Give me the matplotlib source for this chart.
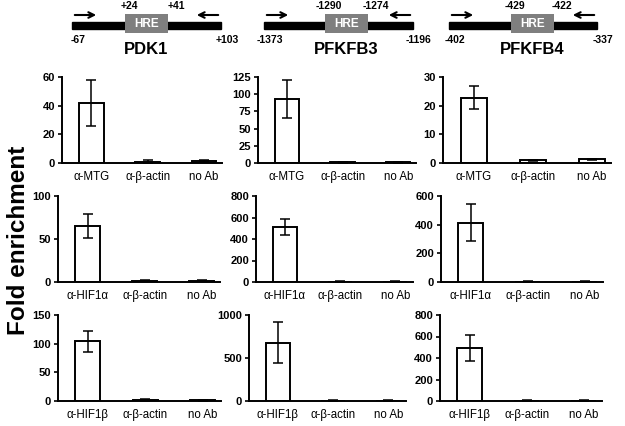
import matplotlib
matplotlib.use("Agg")
import matplotlib.pyplot as plt
from matplotlib.patches import Rectangle

plt.rcParams['font.family'] = ['Liberation Sans', 'DejaVu Sans']

# genes and primer/HRE positions (diagram labels)
genes = ["PDK1", "PFKFB3", "PFKFB4"]
amp_start = ["-67", "-1373", "-402"]
amp_end = ["+103", "-1196", "-337"]
hre_start = ["+24", "-1290", "-429"]
hre_end = ["+41", "-1274", "-422"]

# bar categories per row
row_abs = ["α-MTG", "α-HIF1α", "α-HIF1β"]
controls = ["α-β-actin", "no Ab"]

# fold enrichment (mean) and error, one list per gene: [antibody, actin, no Ab]
mtg_vals = [[42, 1.0, 1.5], [93, 1.0, 1.0], [22.8, 0.9, 1.3]]
mtg_errs = [[16, 1.3, 0.5], [28, 1.0, 0.8], [4, 0.3, 0.2]]
hif1a_vals = [[65, 1.5, 1.5], [515, 3, 3], [415, 3, 3]]
hif1a_errs = [[14, 0.8, 0.6], [75, 2, 2], [130, 2, 2]]
hif1b_vals = [[104, 1.5, 1.0], [680, 5, 5], [490, 3, 3]]
hif1b_errs = [[18, 1.2, 0.6], [240, 3, 3], [120, 2, 2]]

yticks = [
    [[0, 20, 40, 60], [0, 25, 50, 75, 100, 125], [0, 10, 20, 30]],
    [[0, 50, 100], [0, 200, 400, 600, 800], [0, 200, 400, 600]],
    [[0, 50, 100, 150], [0, 500, 1000], [0, 200, 400, 600, 800]],
]

W, H = 625, 426
fig = plt.figure(figsize=(W / 100, H / 100), dpi=100)

# axes layout in pixels: (left, width) per panel, (top, bottom) per row
panel_x = [
    [(62, 160), (258, 158), (443, 168)],
    [(58, 162), (256, 157), (441, 162)],
    [(58, 163), (249, 157), (440, 162)],
]
row_y = [(77, 163), (196, 282), (315, 401)]

all_vals = [mtg_vals, hif1a_vals, hif1b_vals]
all_errs = [mtg_errs, hif1a_errs, hif1b_errs]

for r in range(3):
    top, bot = row_y[r]
    labels = [row_abs[r]] + controls
    for g in range(3):
        left, width = panel_x[r][g]
        ax = fig.add_axes([left / W, (H - bot) / H, width / W, (bot - top) / H])
        x = list(range(3))
        ax.bar(x, all_vals[r][g], width=0.44, color="white", edgecolor="black",
               linewidth=1.4, zorder=2)
        ax.errorbar(x, all_vals[r][g], yerr=all_errs[r][g], fmt="none",
                    ecolor="black", elinewidth=1.1, capsize=3.5, capthick=1.1, zorder=3)
        ax.set_xlim(-0.52, 2.32)
        ax.set_ylim(0, yticks[r][g][-1])
        ax.set_yticks(yticks[r][g])
        ax.set_yticklabels([str(t) for t in yticks[r][g]], fontsize=8, fontweight="bold")
        ax.set_xticks(x)
        ax.set_xticklabels(labels, fontsize=8.3)
        ax.tick_params(axis="x", length=0, pad=6)
        ax.tick_params(axis="y", length=3, width=1.2, pad=2)
        for s in ["top", "right"]:
            ax.spines[s].set_visible(False)
        for s in ["left", "bottom"]:
            ax.spines[s].set_linewidth(1.4)

fig.text(19 / W, 1 - 240 / H, "Fold enrichment", rotation=90, ha="center", va="center",
         fontsize=17.5, fontweight="bold")

# gene diagrams on top
dax = fig.add_axes([0, 1 - 70 / H, 1, 70 / H])
dax.set_xlim(0, W)
dax.set_ylim(70, 0)
dax.axis("off")
bar_x = [(72, 221), (264, 413), (449, 597)]
box_x = [(125, 168), (325, 368), (511, 554)]
for g in range(3):
    x0, x1 = bar_x[g]
    b0, b1 = box_x[g]
    dax.add_patch(Rectangle((x0, 22), x1 - x0, 7, color="black"))
    dax.add_patch(Rectangle((b0, 14), b1 - b0, 19, facecolor="#7f7f7f", edgecolor="none"))
    dax.text((b0 + b1) / 2, 24, "HRE", color="white", fontsize=8.5, fontweight="bold",
             ha="center", va="center")
    dax.annotate("", xy=(x0 + 27, 15), xytext=(x0, 15),
                 arrowprops=dict(arrowstyle="->", lw=1.5, color="black", mutation_scale=10))
    dax.annotate("", xy=(x1 - 27, 15), xytext=(x1, 15),
                 arrowprops=dict(arrowstyle="->", lw=1.5, color="black", mutation_scale=10))
    dax.text(b0 + 4, 6, hre_start[g], fontsize=7.5, fontweight="bold", ha="center", va="center")
    dax.text(b1 + 8, 6, hre_end[g], fontsize=7.5, fontweight="bold", ha="center", va="center")
    dax.text(x0 + 6, 40, amp_start[g], fontsize=7.5, fontweight="bold", ha="center", va="center")
    dax.text(x1 + 6, 40, amp_end[g], fontsize=7.5, fontweight="bold", ha="center", va="center")
    dax.text((b0 + b1) / 2, 49, genes[g], fontsize=12, fontweight="bold", ha="center", va="center")

fig.savefig("out.png", dpi=100)
